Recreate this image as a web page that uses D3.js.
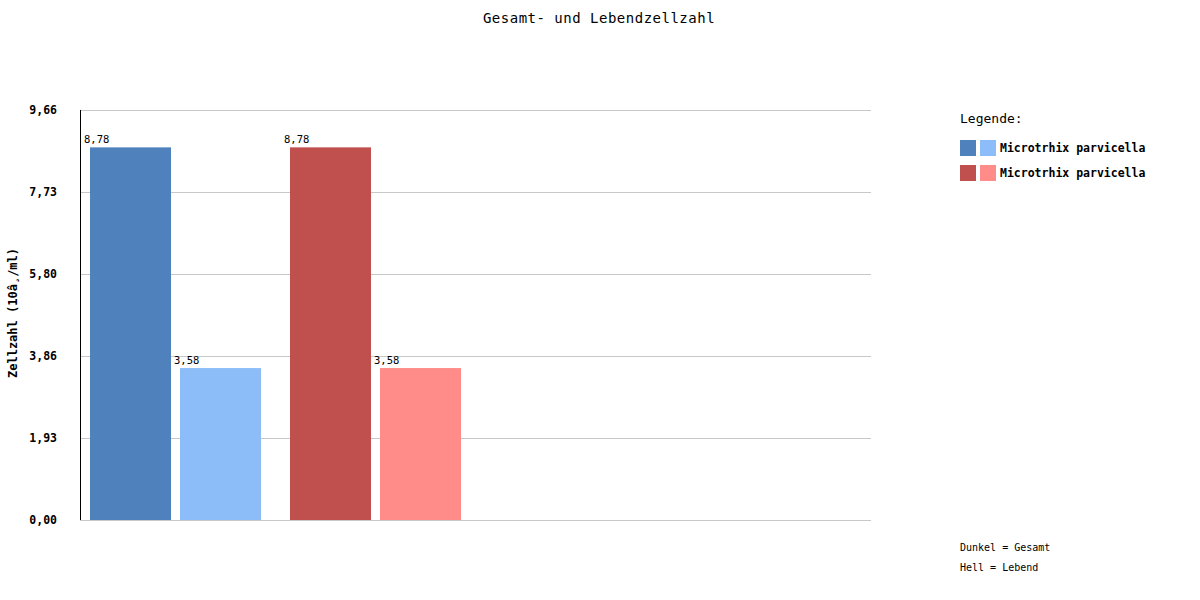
<!DOCTYPE html>
<html>
<head>
<meta charset="utf-8">
<script src="https://cdn.jsdelivr.net/npm/d3@7"></script>
<style>
  body { margin: 0; background: #fff; }
  text { font-family: "DejaVu Sans Mono", "Liberation Mono", monospace; fill: #000; }
</style>
</head>
<body>
<div id="chart"></div>
<script>
// Daten
const groups = ["Microtrhix parvicella", "Microtrhix parvicella "];
const series = ["gesamt", "lebend"];
const gesamtValues = [8.78, 8.78];
const lebendValues = [3.58, 3.58];
const yMax = 9.66;
const tickValues = [0, 1.93, 3.86, 5.80, 7.73, 9.66];
const tickLabels = ["0,00", "1,93", "3,86", "5,80", "7,73", "9,66"];
const darkColors = ["#4f81bd", "#c0504d"];
const lightColors = ["#8dbdf9", "#ff8c88"];

const W = 1200, H = 600;
const plot = { left: 80, right: 871, top: 110, bottom: 520 };

const svg = d3.select("#chart").append("svg")
    .attr("width", W)
    .attr("height", H);

// Skalen
const x0 = d3.scaleBand()
    .domain([0, 1, 2, 3])
    .range([plot.left, plot.left + 800]);

const x1 = d3.scaleBand()
    .domain(series)
    .range([10, 181])
    .paddingInner(0.1);

const y = d3.scaleLinear()
    .domain([0, yMax])
    .range([plot.bottom, plot.top]);

// Titel
svg.append("text")
    .attr("x", 599)
    .attr("y", 23)
    .attr("text-anchor", "middle")
    .style("font-size", "14px")
    .style("letter-spacing", "0.5px")
    .text("Gesamt- und Lebendzellzahl");

// Gitterlinien
svg.append("g")
    .selectAll("line")
    .data(tickValues)
    .enter()
    .append("line")
    .attr("x1", plot.left)
    .attr("x2", plot.right)
    .attr("y1", d => Math.round(y(d)) + 0.5)
    .attr("y2", d => Math.round(y(d)) + 0.5)
    .attr("stroke", "#c8c8c8")
    .attr("stroke-width", 1);

// Y-Achse
svg.append("line")
    .attr("x1", plot.left + 0.5)
    .attr("x2", plot.left + 0.5)
    .attr("y1", plot.top)
    .attr("y2", plot.bottom)
    .attr("stroke", "#000");

svg.append("g")
    .selectAll("text")
    .data(tickValues)
    .enter()
    .append("text")
    .attr("x", 57)
    .attr("y", d => y(d) + 4)
    .attr("text-anchor", "end")
    .style("font-size", "11.5px")
    .style("font-weight", "bold")
    .text((d, i) => tickLabels[i]);

svg.append("text")
    .attr("transform", "translate(17,313) rotate(-90)")
    .attr("text-anchor", "middle")
    .style("font-size", "12px")
    .style("font-weight", "bold")
    .text("Zellzahl (10â¸/ml)");

// Balken
const rows = [];
groups.forEach((g, i) => {
    rows.push({ group: i, key: "gesamt", value: gesamtValues[i], color: darkColors[i] });
    rows.push({ group: i, key: "lebend", value: lebendValues[i], color: lightColors[i] });
});

const bars = svg.append("g");

bars.selectAll("rect")
    .data(rows)
    .enter()
    .append("rect")
    .attr("x", d => x0(d.group) + x1(d.key))
    .attr("y", d => y(d.value))
    .attr("width", x1.bandwidth())
    .attr("height", d => y(0) - y(d.value))
    .attr("fill", d => d.color);

bars.selectAll("text")
    .data(rows)
    .enter()
    .append("text")
    .attr("x", d => x0(d.group) + x1(d.key) - 6)
    .attr("y", d => y(d.value) - 4)
    .style("font-size", "10.5px")
    .text(d => d.value.toFixed(2).replace(".", ","));

// Legende
const legend = svg.append("g").attr("transform", "translate(960,0)");

legend.append("text")
    .attr("x", 0)
    .attr("y", 123)
    .style("font-size", "13px")
    .text("Legende:");

groups.forEach((g, i) => {
    const ly = 140 + i * 25;
    legend.append("rect")
        .attr("x", 0).attr("y", ly)
        .attr("width", 16).attr("height", 16)
        .attr("fill", darkColors[i]);
    legend.append("rect")
        .attr("x", 20).attr("y", ly)
        .attr("width", 16).attr("height", 16)
        .attr("fill", lightColors[i]);
    legend.append("text")
        .attr("x", 40)
        .attr("y", ly + 12)
        .style("font-size", "11.5px")
        .style("font-weight", "bold")
        .text(g.trim());
});

legend.append("text")
    .attr("x", 0).attr("y", 551)
    .style("font-size", "10px")
    .text("Dunkel = Gesamt");

legend.append("text")
    .attr("x", 0).attr("y", 571)
    .style("font-size", "10px")
    .text("Hell = Lebend");
</script>
</body>
</html>
